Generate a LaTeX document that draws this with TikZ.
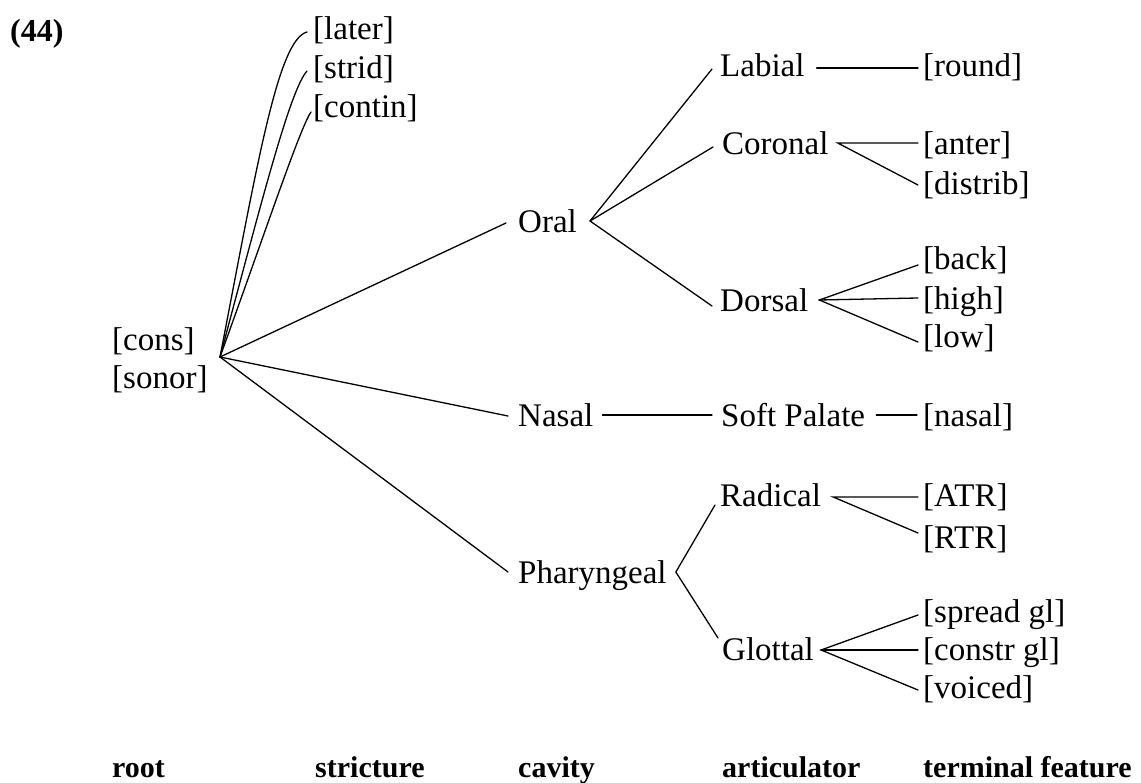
\documentclass[tikz,border=0pt]{standalone}
\usepackage{fontspec}
\setmainfont{Liberation Serif}
\begin{document}
\begin{tikzpicture}[x=1pt,y=-1pt,
  lbl/.style={font=\fontsize{33}{39}\selectfont, inner sep=0pt, anchor=base west, text height=23pt, text depth=7pt},
  hdr/.style={font=\fontsize{30}{36}\selectfont\bfseries, inner sep=0pt, anchor=base west},
  ln/.style={line width=1.3pt, line cap=round}]
\useasboundingbox (0,0) rectangle (1141,783);
\node[hdr, font=\fontsize{32}{38}\selectfont\bfseries] (n44) at (10,42) {(44)};
% stricture features
\node[lbl] (later) at (313,40) {[later]};
\node[lbl] (strid) at (313,79) {[strid]};
\node[lbl] (contin) at (313,118) {[contin]};
% root
\node[lbl] (cons) at (112,351) {[cons]};
\node[lbl] (sonor) at (112,389) {[sonor]};
\coordinate (R) at (220,357);
% cavity
\node[lbl] (oral) at (518,233) {Oral};
\node[lbl] (nasal) at (518,427) {Nasal};
\node[lbl] (phar) at (518,583) {Pharyngeal};
% articulators
\node[lbl] (labial) at (720,77) {Labial};
\node[lbl] (coronal) at (722,155) {Coronal};
\node[lbl] (dorsal) at (720,312) {Dorsal};
\node[lbl] (soft) at (721,427) {Soft Palate};
\node[lbl] (radical) at (720,507) {Radical};
\node[lbl] (glottal) at (722,660) {Glottal};
% terminal features
\node[lbl] (round) at (923,77) {[round]};
\node[lbl] (anter) at (923,155) {[anter]};
\node[lbl] (distrib) at (923,195) {[distrib]};
\node[lbl] (back) at (923,270) {[back]};
\node[lbl] (high) at (923,310) {[high]};
\node[lbl] (low) at (923,348) {[low]};
\node[lbl] (nasalf) at (923,427) {[nasal]};
\node[lbl] (atr) at (923,507) {[ATR]};
\node[lbl] (rtr) at (923,548) {[RTR]};
\node[lbl] (spread) at (923,622) {[spread gl]};
\node[lbl] (constr) at (923,660) {[constr gl]};
\node[lbl] (voiced) at (923,698) {[voiced]};
% bottom labels
\node[hdr] (hroot) at (112,777) {root};
\node[hdr] (hstr) at (315,777) {stricture};
\node[hdr] (hcav) at (518,777) {cavity};
\node[hdr] (hart) at (722,777) {articulator};
\node[hdr] (hterm) at (923,777) {terminal feature};
% connectors
\draw[ln] (R) .. controls (258,160) and (278,40) .. ([xshift=-6pt]later.west);
\draw[ln] (R) .. controls (262,200) and (290,90) .. ([xshift=-6pt]strid.west);
\draw[ln] (R) .. controls (266,230) and (300,128) .. ([xshift=-2pt,yshift=-2pt]contin.west);
\draw[ln] (R) -- ([xshift=-12pt,yshift=2pt]oral.west);
\draw[ln] (R) -- ([xshift=-10pt,yshift=3pt]nasal.west);
\draw[ln] (R) -- ([xshift=-10pt,yshift=3pt]phar.west);
\coordinate (oralv) at ([xshift=13pt,yshift=4pt]oral.east);
\draw[ln] ([xshift=-8pt]labial.west) -- (oralv) -- ([xshift=-8pt,yshift=-2pt]dorsal.west);
\draw[ln] (oralv) -- ([xshift=-9pt]coronal.west);
\draw[ln] ([xshift=12pt,yshift=1pt]labial.east) -- ([xshift=-5pt,yshift=1pt]round.west);
\coordinate (corv) at ([xshift=9pt,yshift=4pt]coronal.east);
\draw[ln] ([xshift=-5pt,yshift=4pt]anter.west) -- (corv) -- ([xshift=-5pt,yshift=2pt]distrib.west);
\coordinate (dorv) at ([xshift=11pt,yshift=4pt]dorsal.east);
\draw[ln] ([xshift=-5pt,yshift=-3pt]back.west) -- (dorv) -- ([xshift=-5pt,yshift=-2pt]low.west);
\draw[ln] (dorv) -- ([xshift=-5pt,yshift=4pt]high.west);
\draw[ln] ([xshift=9pt,yshift=4pt]nasal.east) -- ([xshift=-9pt,yshift=4pt]soft.west);
\draw[ln] ([xshift=11pt,yshift=4pt]soft.east) -- ([xshift=-6pt,yshift=4pt]nasalf.west);
\coordinate (pharv) at ([xshift=9pt,yshift=3pt]phar.east);
\draw[ln] ([xshift=-5pt,yshift=-6pt]radical.west) -- (pharv) -- ([xshift=-4pt,yshift=14pt]glottal.west);
\coordinate (radv) at ([xshift=12pt,yshift=2pt]radical.east);
\draw[ln] ([xshift=-5pt,yshift=2pt]atr.west) -- (radv) -- ([xshift=-5pt,yshift=7pt]rtr.west);
\coordinate (glov) at ([xshift=7pt,yshift=2pt]glottal.east);
\draw[ln] ([xshift=-5pt,yshift=-1pt]spread.west) -- (glov) -- ([xshift=-5pt]voiced.west);
\draw[ln] (glov) -- ([xshift=-5pt,yshift=2pt]constr.west);
\end{tikzpicture}
\end{document}
